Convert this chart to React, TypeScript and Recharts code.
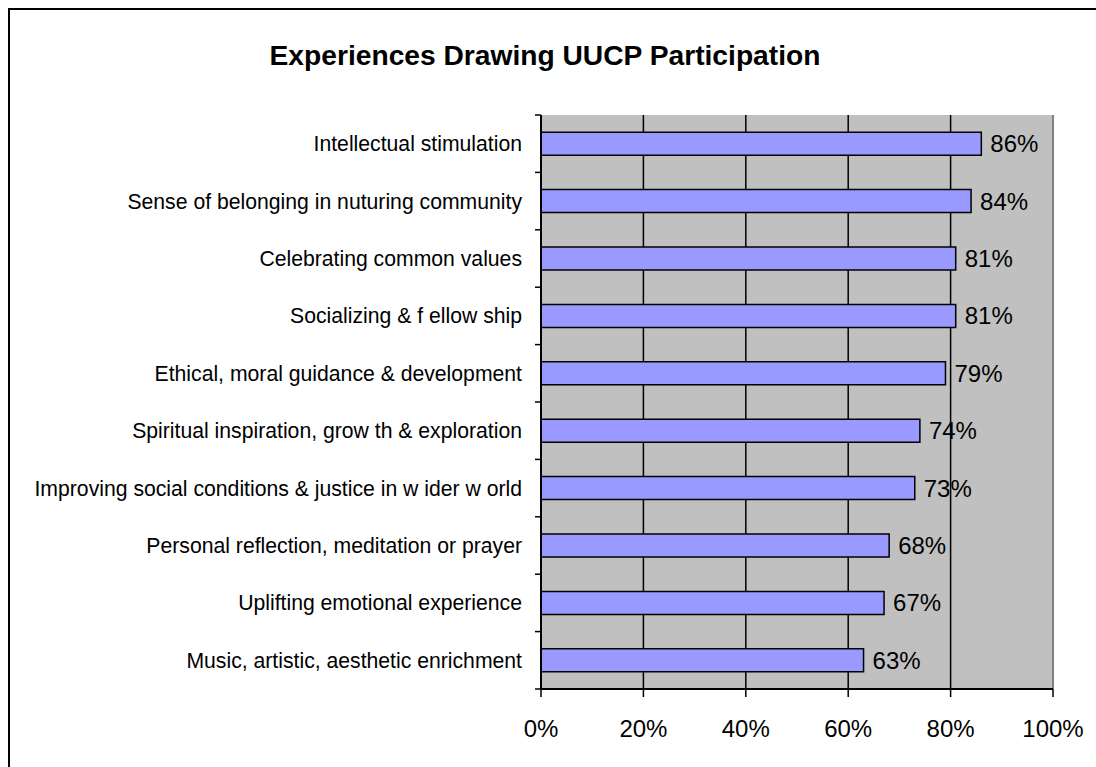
import React from "react";
import {
  BarChart,
  Bar,
  XAxis,
  YAxis,
  CartesianGrid,
  LabelList,
  ReferenceLine,
} from "recharts";

const categories = [
  "Intellectual stimulation",
  "Sense of belonging in nuturing community",
  "Celebrating common values",
  "Socializing & f ellow ship",
  "Ethical, moral guidance & development",
  "Spiritual inspiration, grow th & exploration",
  "Improving social conditions & justice in w ider w orld",
  "Personal reflection, meditation or prayer",
  "Uplifting emotional experience",
  "Music, artistic, aesthetic enrichment",
];

const values = [86, 84, 81, 81, 79, 74, 73, 68, 67, 63];

const xTicks = [0, 20, 40, 60, 80, 100];

const title = "Experiences Drawing UUCP Participation";

const data = categories.map((name, i) => ({ name, value: values[i] }));

const FONT = "'Liberation Sans', Arial, sans-serif";
const WIDTH = 1086;
const HEIGHT = 757;
const MARGIN = { top: 105, right: 43, left: 0, bottom: 28 };
const XAXIS_HEIGHT = 50;
const YAXIS_WIDTH = 531;
const Y_TICK_SIZE = 6;
const Y_TICK_MARGIN = 13;
const PLOT_HEIGHT = HEIGHT - MARGIN.top - MARGIN.bottom - XAXIS_HEIGHT;
const BAND = PLOT_HEIGHT / categories.length;

const CategoryTick = (props: any) => {
  const { x, y, payload, index } = props;
  const axisX = x + Y_TICK_SIZE + Y_TICK_MARGIN;
  return (
    <g>
      <text
        x={x}
        y={y}
        dy="0.355em"
        textAnchor="end"
        fontSize={21.2}
        fontFamily={FONT}
        fill="#000"
      >
        {payload.value}
      </text>
      <line
        x1={axisX - Y_TICK_SIZE}
        x2={axisX}
        y1={y + BAND / 2}
        y2={y + BAND / 2}
        stroke="#000"
        strokeWidth={1.5}
      />
      {index === 0 && (
        <line
          x1={axisX - Y_TICK_SIZE}
          x2={axisX}
          y1={y - BAND / 2}
          y2={y - BAND / 2}
          stroke="#000"
          strokeWidth={1.5}
        />
      )}
    </g>
  );
};

export default function App() {
  return (
    <div
      style={{
        position: "fixed",
        left: 8,
        top: 8,
        zIndex: 10,
        width: 1088,
        height: 759,
        borderTop: "2px solid #000",
        borderLeft: "2px solid #000",
        boxSizing: "border-box",
        background: "#fff",
        fontFamily: FONT,
        overflow: "hidden",
      }}
    >
      <div
        style={{
          position: "absolute",
          left: 535,
          top: 45,
          transform: "translate(-50%, -50%)",
          whiteSpace: "nowrap",
          fontWeight: "bold",
          fontSize: 28.2,
          fontFamily: FONT,
          color: "#000",
        }}
      >
        {title}
      </div>
      <BarChart
        width={WIDTH}
        height={HEIGHT}
        data={data}
        layout="vertical"
        margin={MARGIN}
        barCategoryGap="30%"
      >
        <CartesianGrid
          horizontal={false}
          vertical={true}
          fill="#C0C0C0"
          fillOpacity={1}
          stroke="#000"
          strokeWidth={1.5}
        />
        <XAxis
          type="number"
          domain={[0, 100]}
          ticks={xTicks}
          tickFormatter={(v: number) => `${v}%`}
          height={XAXIS_HEIGHT}
          tickSize={8}
          tickMargin={23}
          axisLine={{ stroke: "#000", strokeWidth: 2 }}
          tickLine={{ stroke: "#000", strokeWidth: 1.5 }}
          tick={{ fontSize: 24, fontFamily: FONT, fill: "#000" }}
          interval={0}
        />
        <YAxis
          type="category"
          dataKey="name"
          width={YAXIS_WIDTH}
          tickSize={Y_TICK_SIZE}
          tickMargin={Y_TICK_MARGIN}
          tickLine={false}
          axisLine={{ stroke: "#000", strokeWidth: 2 }}
          tick={<CategoryTick />}
          interval={0}
        />
        <ReferenceLine x={100} stroke="#808080" strokeWidth={2} />
        <Bar
          dataKey="value"
          fill="#9999FF"
          stroke="#000"
          strokeWidth={1.5}
          isAnimationActive={false}
        >
          <LabelList
            dataKey="value"
            position="right"
            offset={9}
            formatter={(v: any) => `${v}%`}
            style={{ fontSize: 24, fontFamily: FONT, fill: "#000" }}
          />
        </Bar>
      </BarChart>
    </div>
  );
}
